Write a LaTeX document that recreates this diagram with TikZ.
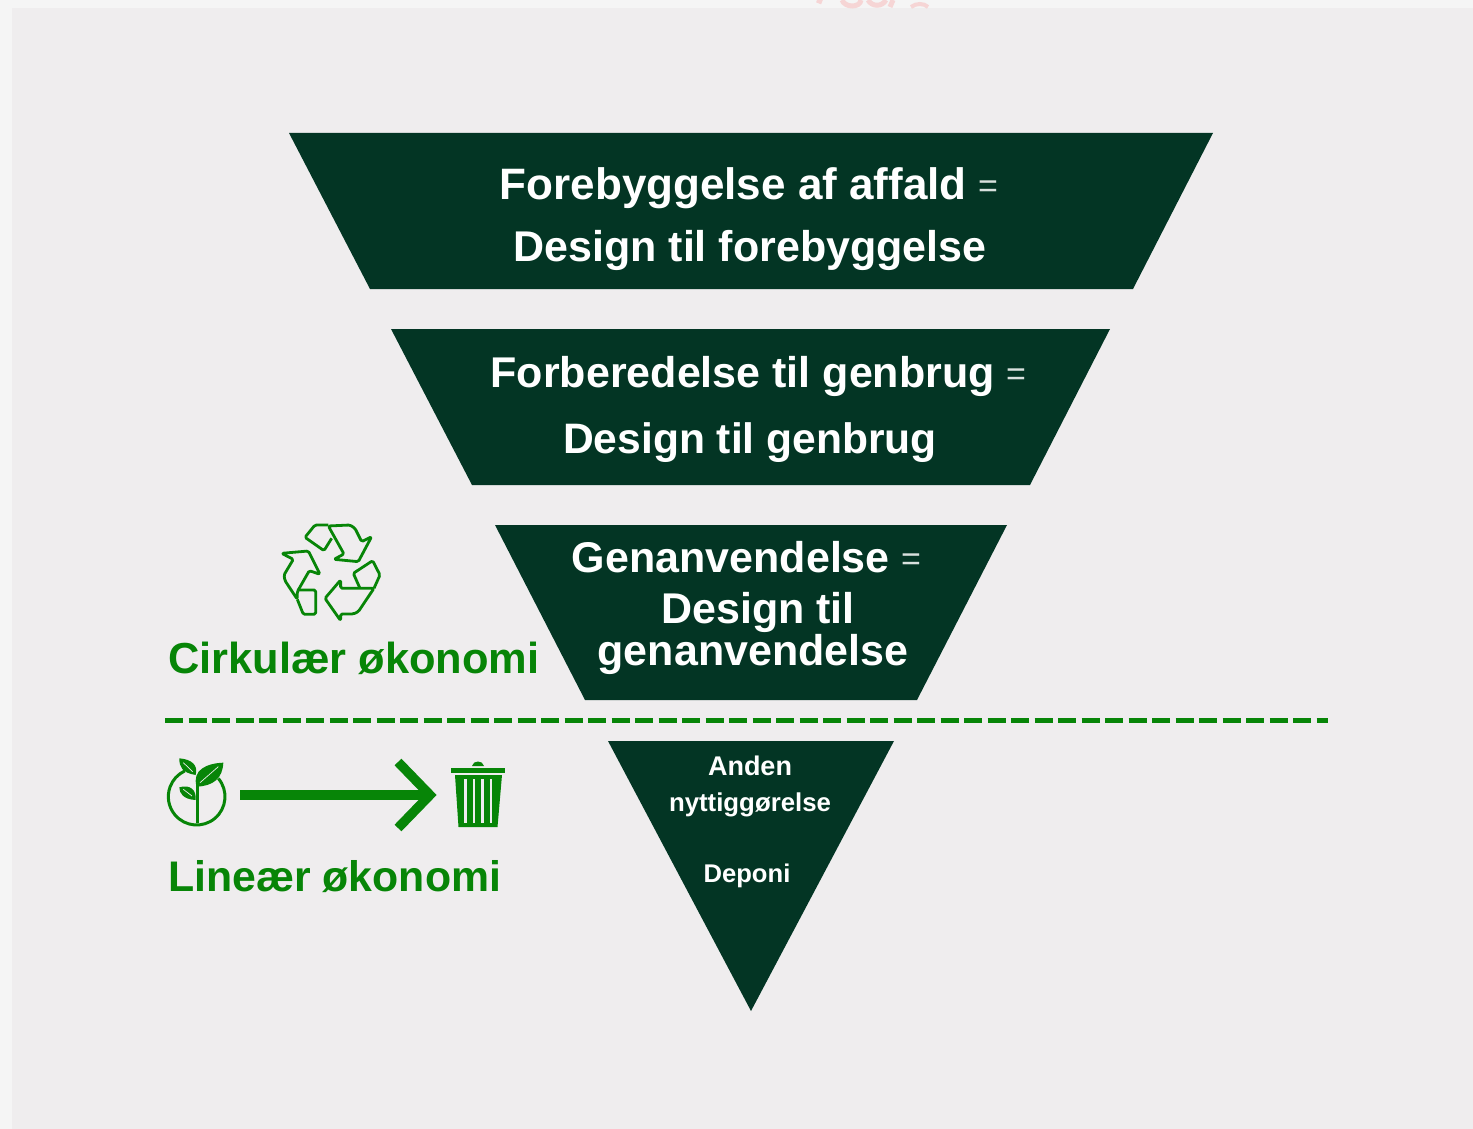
\documentclass[tikz,border=0pt]{standalone}
\usepackage{fontspec}
\setmainfont{Liberation Sans}
\definecolor{pagegrey}{HTML}{EFEDEE}
\definecolor{stripgrey}{HTML}{F5F5F5}
\definecolor{darkgreen}{HTML}{033524}
\definecolor{lightgreen}{HTML}{078507}
\definecolor{fadedpink}{HTML}{F6D5D5}
\tikzset{
  level/.style={fill=darkgreen},
  leveltext/.style={text=white, font=\bfseries\fontsize{#1}{#1}\selectfont, inner sep=0pt, anchor=base},
  equalsign/.style={text=white!85!darkgreen, font=\fontsize{34}{34}\selectfont, inner sep=0pt, anchor=base},
  ecotext/.style={text=lightgreen, font=\bfseries\fontsize{#1}{#1}\selectfont, inner sep=0pt, anchor=base west},
  iconline/.style={draw=lightgreen, line width=2.8pt, line join=round, rounded corners=1.5pt, fill=none}
}
\begin{document}
\begin{tikzpicture}[x=1pt, y=-1pt]
  \useasboundingbox (0,0) rectangle (1473,1129);
  \fill[stripgrey] (0,0) rectangle (1473,1129);
  \fill[pagegrey] (12,8) rectangle (1473,1129);

  % remains of a word cut off at the top edge
  \draw[fadedpink, line width=5pt] (817,0) -- (822,2) (842,0) .. controls (845,8) and (860,8) .. (861,0)
    (868,0) .. controls (872,7) and (882,7) .. (886,0) (893,0) -- (890,7);
  \draw[fadedpink, line width=4pt] (911,7) .. controls (916,3) and (924,3) .. (928,7);

  % the four levels
  \fill[level] (289,133) -- (1213,133) -- (1133,289) -- (370,289) -- cycle;
  \fill[level] (391,329) -- (1110,329) -- (1030,485) -- (472,485) -- cycle;
  \fill[level] (495,525) -- (1007,525) -- (917,700) -- (585,700) -- cycle;
  \fill[level] (608,741) -- (894,741) -- (751,1011) -- cycle;

  \node[leveltext=44, anchor=base east] (forebyg) at (967,199) {Forebyggelse af affald};
  \node[equalsign, anchor=base west] (foreq) at (978,197) {=};
  \node[leveltext=43] (desforebyg) at (750,261) {Design til forebyggelse};

  \node[leveltext=43, anchor=base east] (forbered) at (995,387) {Forberedelse til genbrug};
  \node[equalsign, anchor=base west] (forbeq) at (1006,385) {=};
  \node[leveltext=42.6] (desgenbrug) at (750,453) {Design til genbrug};

  \node[leveltext=43, anchor=base east] (genanv) at (890,572) {Genanvendelse};
  \node[equalsign, anchor=base west] (geneq) at (901,570) {=};
  \node[leveltext=43] (desgenanv) at (758,623) {Design til};
  \node[leveltext=43] (genanv2) at (753,665) {genanvendelse};

  \node[leveltext=27] (anden) at (750,775) {Anden};
  \node[leveltext=25.8] (nytte) at (750,811) {nyttiggørelse};
  \node[leveltext=25.6] (deponi) at (747,882) {Deponi};

  \draw[lightgreen, line width=5pt, dash pattern=on 18pt off 5.5pt] (165,720) -- (1328,720);

  \node[ecotext=43.4] (cirkulaer) at (168,673) {Cirkulær økonomi};
  \node[ecotext=42.8] (linear) at (168,891) {Lineær økonomi};

  % recycling sign
  \begin{scope}[shift={(150,510)}, x=0.3333pt, y=-0.3333pt]
    \draw[iconline] (535,48) -- (600,45) -- (615,55) -- (635,95) -- (665,80) -- (625,155) -- (552,148) -- (582,132) -- cycle;
    \draw[iconline] (545,85) -- (522,122) -- (465,82) -- (495,45) -- (535,45);
    \draw[iconline] (395,130) -- (475,123) -- (510,193) -- (478,182) -- (442,245) -- (442,268) -- (405,212) -- (402,195) -- (430,148) -- cycle;
    \draw[iconline] (442,240) -- (497,240) -- (497,313) -- (460,313) -- (442,268);
    \draw[iconline] (525,265) -- (572,210) -- (572,235) -- (672,235) -- (625,305) -- (610,312) -- (572,312) -- (572,332) -- cycle;
    \draw[iconline] (630,235) -- (610,190) -- (668,152) -- (690,195) -- (672,235);
  \end{scope}

  % plant
  \begin{scope}[shift={(150,740)}, x=0.3333pt, y=-0.3333pt]
    \draw[lightgreen, line width=3pt] (140,170) ++(-40:85) arc (-40:245:85);
    \draw[lightgreen, line width=3.2pt] (143,250) -- (143,125);
    \fill[lightgreen] (140,140) .. controls (125,90) and (170,70) .. (220,68) .. controls (218,115) and (190,138) .. (140,140) -- cycle;
    \fill[lightgreen] (137,105) .. controls (95,98) and (88,80) .. (88,55) .. controls (125,58) and (145,75) .. (137,105) -- cycle;
    \fill[lightgreen] (137,180) .. controls (100,178) and (88,160) .. (88,142) .. controls (120,132) and (140,150) .. (137,180) -- cycle;
    \draw[pagegrey, line width=.7pt] (150,128) -- (205,80) (128,95) -- (100,68) (126,168) -- (100,148);
  \end{scope}

  % arrow between the two icons
  \coordinate (arrowstart) at (240,795);
  \coordinate (arrowtip) at (430,795);
  \draw[lightgreen, line width=9.5pt] (arrowstart) -- (arrowtip);
  \draw[lightgreen, line width=9.5pt, miter limit=4] (398,762) -- (arrowtip) -- (398,828);

  % bin
  \fill[lightgreen] (451,768) -- (505,768) -- (505,773) -- (451,773) -- cycle;
  \fill[lightgreen] (472,766) .. controls (473,760) and (483,760) .. (484,766) -- cycle;
  \fill[lightgreen] (455,775) -- (502,775) -- (497.5,827) -- (458.5,827) -- cycle;
  \foreach \x in {464,472.5,481,489.5}
    \fill[pagegrey] (\x,779) rectangle +(2.8,44);
\end{tikzpicture}
\end{document}
